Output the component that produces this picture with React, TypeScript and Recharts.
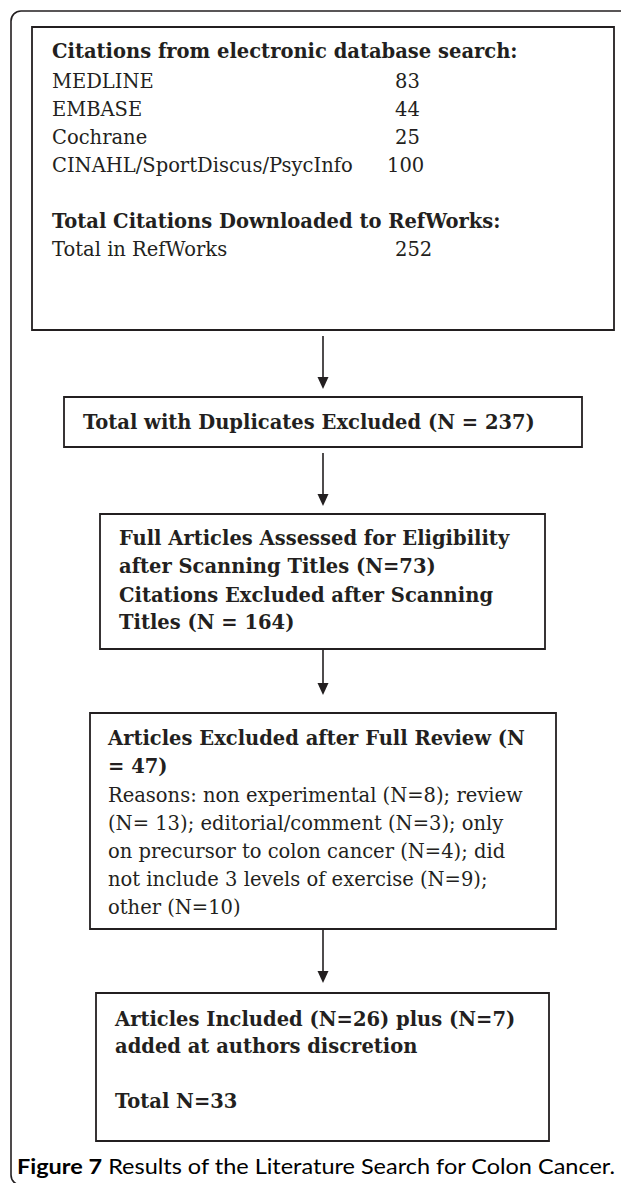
import React from "react";
import { ComposedChart, XAxis, YAxis, ReferenceArea, ReferenceLine, Scatter } from "recharts";

// flow counts
const searchSources = ["MEDLINE", "EMBASE", "Cochrane", "CINAHL/SportDiscus/PsycInfo"];
const searchCounts = [83, 44, 25, 100];
const refWorksTotal = 252;
const dedupedN = 237;
const assessedN = 73;
const titleExcludedN = 164;
const reviewExcludedN = 47;
const includedN = 26;
const addedN = 7;
const finalN = 33;

// canvas geometry (px units of the figure)
const W = 621;
const H = 1183;
const SERIF = "'DejaVu Serif', serif";
const SANS = "Lato, 'Open Sans', sans-serif";
const INK = "#231f20";

const boxes = [
  { x1: 32, x2: 614, y1: 27, y2: 330 },
  { x1: 64, x2: 582, y1: 397, y2: 447 },
  { x1: 100, x2: 545, y1: 514, y2: 649 },
  { x1: 90, x2: 556, y1: 713, y2: 929 },
  { x1: 96, x2: 549, y1: 993, y2: 1141 },
];

const arrowX = 323;
const arrows = [
  { from: 336, to: 389 },
  { from: 453, to: 506 },
  { from: 649, to: 695 },
  { from: 929, to: 983 },
];

type Line = { x: number; y: number; text: string; bold?: boolean };

const lines: Line[] = [
  { x: 52, y: 58, text: "Citations from electronic database search:", bold: true },
  ...searchSources.map((s, i) => ({ x: 52, y: 88 + i * 28, text: s })),
  ...searchCounts.map((c, i) => ({ x: c >= 100 ? 387 : 395, y: 88 + i * 28, text: String(c) })),
  { x: 52, y: 228, text: "Total Citations Downloaded to RefWorks:", bold: true },
  { x: 52, y: 256, text: "Total in RefWorks" },
  { x: 395, y: 256, text: String(refWorksTotal) },

  { x: 83, y: 429, text: `Total with Duplicates Excluded (N = ${dedupedN})`, bold: true },

  { x: 119, y: 545, text: "Full Articles Assessed for Eligibility", bold: true },
  { x: 119, y: 573, text: `after Scanning Titles (N=${assessedN})`, bold: true },
  { x: 119, y: 602, text: "Citations Excluded after Scanning", bold: true },
  { x: 119, y: 629, text: `Titles (N = ${titleExcludedN})`, bold: true },

  { x: 108, y: 745, text: "Articles Excluded after Full Review (N", bold: true },
  { x: 108, y: 773, text: `= ${reviewExcludedN})`, bold: true },
  { x: 108, y: 802, text: "Reasons: non experimental (N=8); review" },
  { x: 108, y: 830, text: "(N= 13); editorial/comment (N=3); only" },
  { x: 108, y: 858, text: "on precursor to colon cancer (N=4); did" },
  { x: 108, y: 886, text: "not include 3 levels of exercise (N=9);" },
  { x: 108, y: 914, text: "other (N=10)" },

  { x: 115, y: 1026, text: `Articles Included (N=${includedN}) plus (N=${addedN})`, bold: true },
  { x: 115, y: 1053, text: "added at authors discretion", bold: true },
  { x: 115, y: 1108, text: `Total N=${finalN}`, bold: true },
];

const caption = [{ x: 17, y: 1174 }];

const TextMark = (props: any) => {
  const { cx, cy, payload } = props;
  return (
    <text
      x={cx}
      y={cy}
      fill={INK}
      fontFamily={SERIF}
      fontSize={19.5}
      fontWeight={payload.bold ? 700 : 400}
    >
      {payload.text}
    </text>
  );
};

const ArrowHead = (props: any) => {
  const { cx, cy } = props;
  return <polygon points={`${cx - 5.5},${cy - 12} ${cx + 5.5},${cy - 12} ${cx},${cy}`} fill={INK} />;
};

const Caption = (props: any) => {
  const { cx, cy } = props;
  return (
    <text
      x={cx}
      y={cy}
      fill="#000"
      fontFamily={SANS}
      fontSize={21.5}
      textLength={598}
      lengthAdjust="spacingAndGlyphs"
    >
      <tspan fontWeight={700}>Figure 7</tspan>
      <tspan> Results of the Literature Search for Colon Cancer.</tspan>
    </text>
  );
};

export default function App() {
  return (
    <div style={{ position: "absolute", left: 0, top: 0, width: W, height: H, background: "#fff" }}>
      <ComposedChart width={W} height={H} margin={{ top: 0, right: 0, bottom: 0, left: 0 }}>
        <XAxis type="number" dataKey="x" domain={[0, W]} hide allowDataOverflow />
        <YAxis type="number" dataKey="y" domain={[0, H]} reversed hide allowDataOverflow />

        <ReferenceArea
          x1={11}
          x2={W + 30}
          y1={11}
          y2={1185}
          ifOverflow="visible"
          fill="none"
          stroke={INK}
          strokeWidth={1.6}
          radius={10}
        />

        {boxes.map((b, i) => (
          <ReferenceArea
            key={`box-${i}`}
            x1={b.x1}
            x2={b.x2}
            y1={b.y1}
            y2={b.y2}
            fill="#fff"
            fillOpacity={1}
            stroke={INK}
            strokeWidth={1.8}
          />
        ))}

        {arrows.map((a, i) => (
          <ReferenceLine
            key={`arrow-${i}`}
            segment={[
              { x: arrowX, y: a.from },
              { x: arrowX, y: a.to - 8 },
            ]}
            stroke={INK}
            strokeWidth={1.6}
          />
        ))}

        <Scatter
          data={arrows.map((a) => ({ x: arrowX, y: a.to }))}
          dataKey="y"
          shape={<ArrowHead />}
          isAnimationActive={false}
        />
        <Scatter data={lines} dataKey="y" shape={<TextMark />} isAnimationActive={false} />
        <Scatter data={caption} dataKey="y" shape={<Caption />} isAnimationActive={false} />
      </ComposedChart>
    </div>
  );
}
